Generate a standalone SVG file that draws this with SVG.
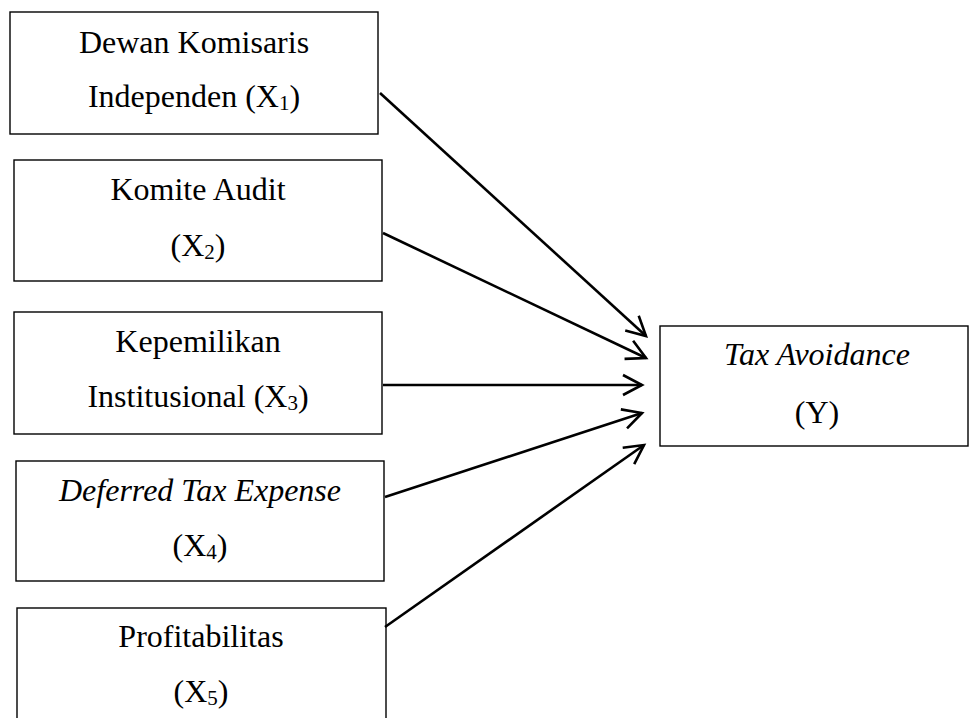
<svg xmlns="http://www.w3.org/2000/svg" width="970" height="718" viewBox="0 0 970 718">
<style>
.box{fill:#fff;stroke:#000;stroke-width:1.4}
.t{font-family:"Liberation Serif","Times New Roman",serif;font-size:32px;fill:#000;text-anchor:middle}
.i{font-style:italic}
.sub{font-size:21px}
.c{stroke:#000;stroke-width:2.6;fill:none}
</style>
<defs>
<marker id="ah" markerUnits="userSpaceOnUse" viewBox="-22 -12 24 24" refX="0" refY="0" markerWidth="24" markerHeight="24" orient="auto" overflow="visible">
<path d="M-19,-10 L0,0 L-19,10" fill="none" stroke="#000" stroke-width="2.6"/>
</marker>
</defs>
<rect width="970" height="718" fill="#fff"/>
<g id="x1">
<rect class="box" x="10" y="12" width="368" height="122"/>
<text class="t" x="194" y="53">Dewan Komisaris</text>
<text class="t" x="194" y="107">Independen (X<tspan class="sub" dy="3">1</tspan><tspan dy="-3">)</tspan></text>
</g>
<g id="x2">
<rect class="box" x="14" y="160" width="368" height="121"/>
<text class="t" x="198" y="200">Komite Audit</text>
<text class="t" x="198" y="256">(X<tspan class="sub" dy="3">2</tspan><tspan dy="-3">)</tspan></text>
</g>
<g id="x3">
<rect class="box" x="14" y="312" width="368" height="122"/>
<text class="t" x="198" y="352">Kepemilikan</text>
<text class="t" x="198" y="407">Institusional (X<tspan class="sub" dy="3">3</tspan><tspan dy="-3">)</tspan></text>
</g>
<g id="x4">
<rect class="box" x="16" y="461" width="368" height="120"/>
<text class="t i" x="200" y="501">Deferred Tax Expense</text>
<text class="t" x="200" y="556">(X<tspan class="sub" dy="3">4</tspan><tspan dy="-3">)</tspan></text>
</g>
<g id="x5">
<rect class="box" x="17" y="608" width="369" height="130"/>
<text class="t" x="201" y="647">Profitabilitas</text>
<text class="t" x="201" y="702">(X<tspan class="sub" dy="3">5</tspan><tspan dy="-3">)</tspan></text>
</g>
<g id="y">
<rect class="box" x="660" y="326" width="308" height="120"/>
<text class="t i" x="817" y="365">Tax Avoidance</text>
<text class="t" x="817" y="423">(Y)</text>
</g>
<g id="connectors">
<line class="c" x1="380" y1="93" x2="646" y2="336" marker-end="url(#ah)"/>
<line class="c" x1="383" y1="233" x2="646" y2="358" marker-end="url(#ah)"/>
<line class="c" x1="383" y1="385" x2="642" y2="385" marker-end="url(#ah)"/>
<line class="c" x1="385" y1="497" x2="642" y2="413" marker-end="url(#ah)"/>
<line class="c" x1="385" y1="627" x2="644" y2="445" marker-end="url(#ah)"/>
</g>
</svg>
